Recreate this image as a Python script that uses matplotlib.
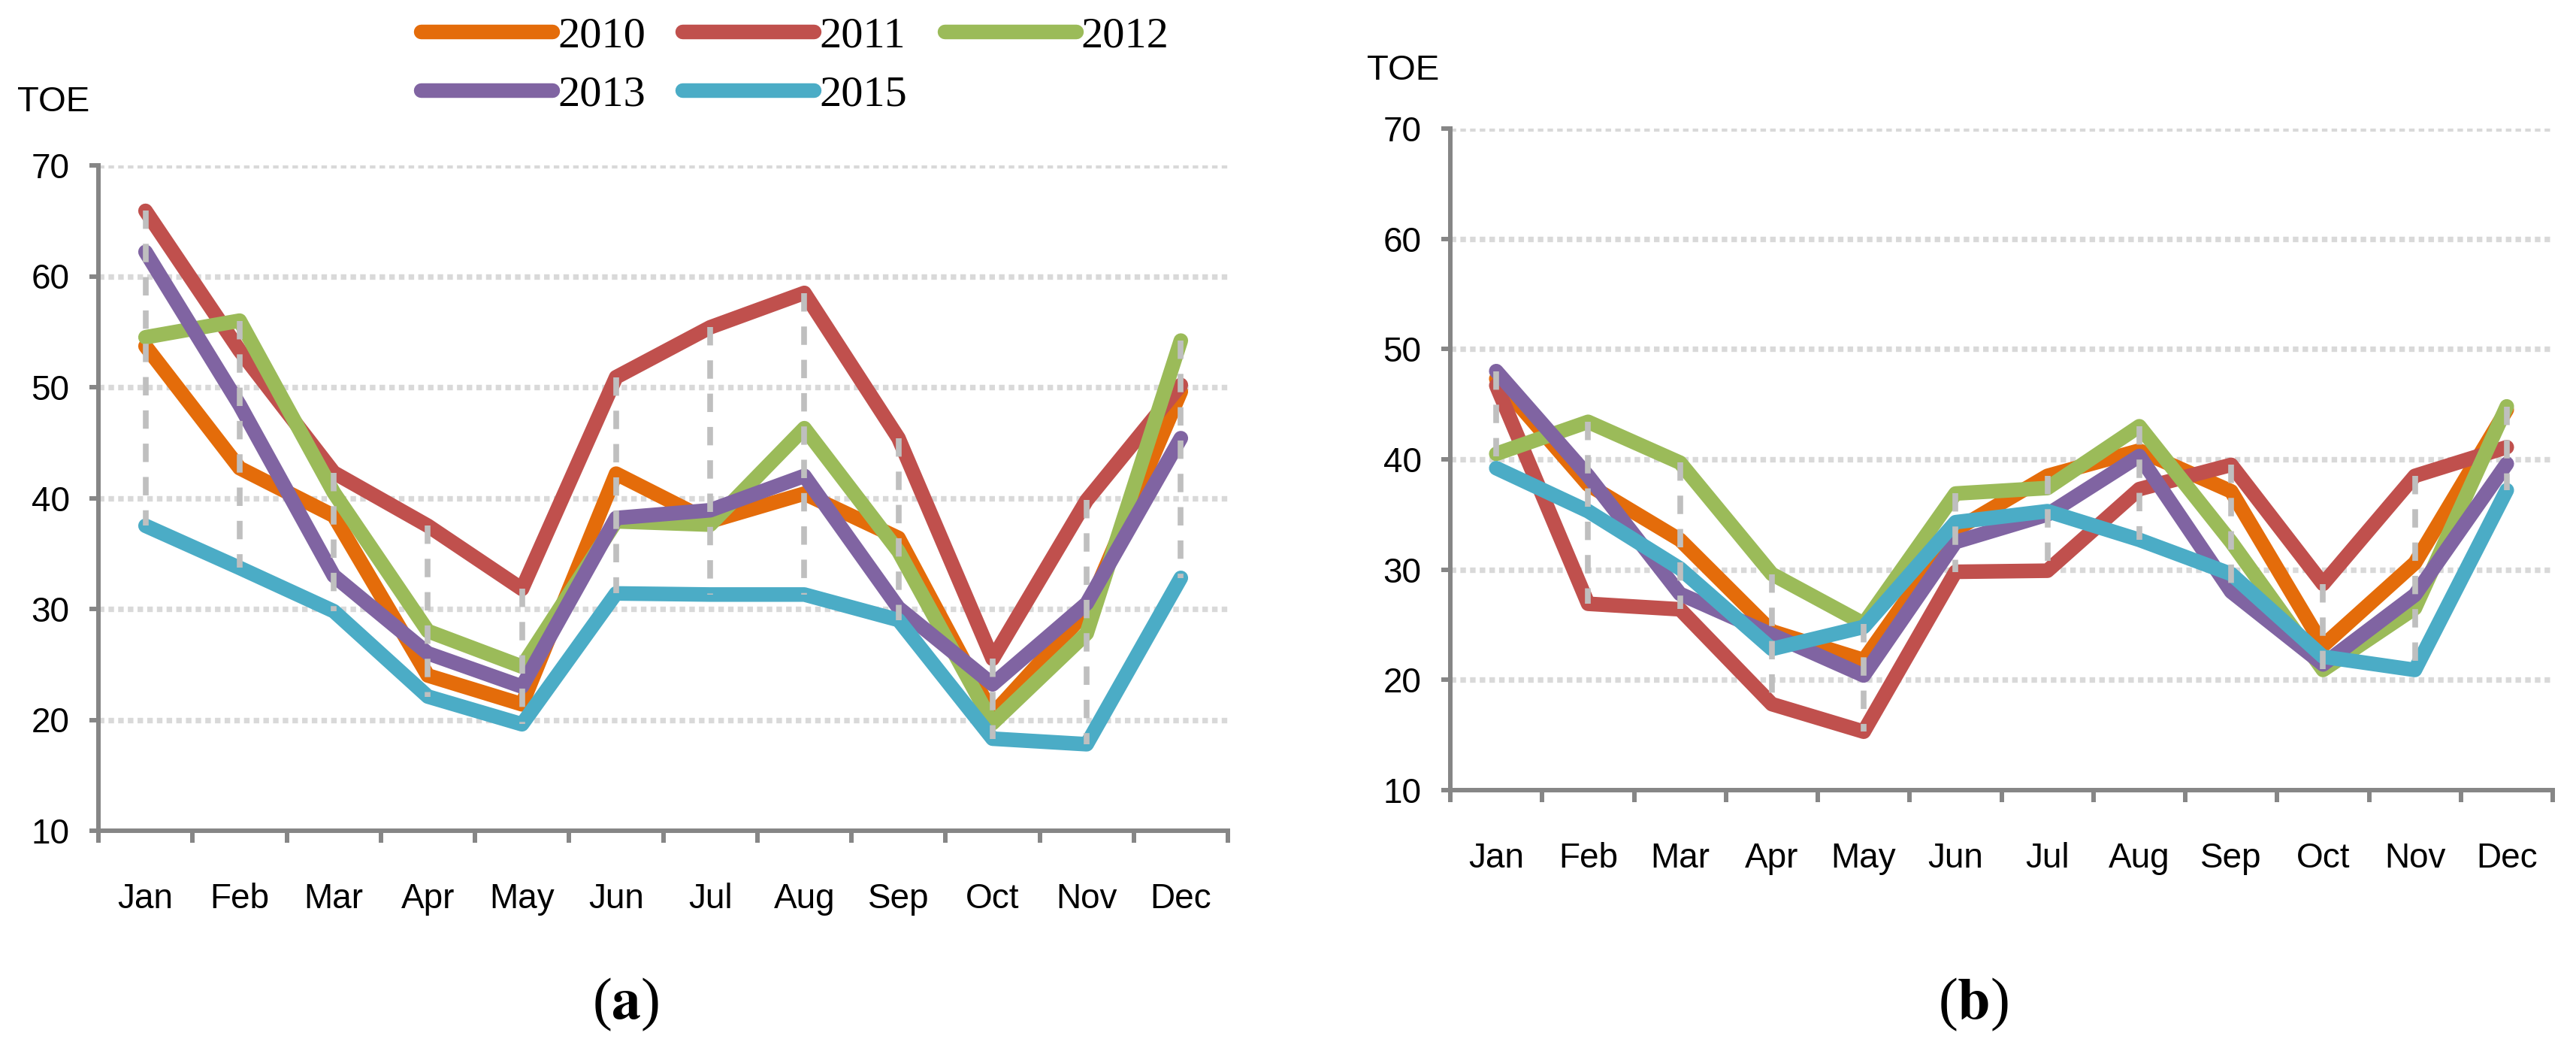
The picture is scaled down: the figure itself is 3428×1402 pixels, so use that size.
import numpy as np
import matplotlib
matplotlib.use("Agg")
import matplotlib.pyplot as plt

plt.rcParams['font.family'] = ['Liberation Sans', 'DejaVu Sans']
plt.rcParams['mathtext.fontset'] = 'stix'

months = ['Jan', 'Feb', 'Mar', 'Apr', 'May', 'Jun', 'Jul', 'Aug', 'Sep', 'Oct', 'Nov', 'Dec']
years = ['2010', '2011', '2012', '2013', '2015']
colors = ['#E46C0A', '#C0504D', '#9BBB59', '#8064A2', '#4BACC6']

# Panel (a)
a_2010 = [53.7, 42.7, 38.4, 24.0, 21.4, 42.2, 37.9, 40.4, 36.4, 20.5, 29.8, 49.6]
a_2011 = [65.9, 53.3, 42.3, 37.5, 31.8, 50.9, 55.4, 58.5, 45.4, 25.5, 39.8, 50.2]
a_2012 = [54.5, 56.0, 40.5, 28.0, 24.8, 37.9, 37.6, 46.3, 35.2, 19.7, 27.8, 54.2]
a_2013 = [62.2, 48.4, 33.0, 26.0, 23.0, 38.2, 38.9, 42.0, 30.1, 23.2, 30.5, 45.4]
a_2015 = [37.5, 33.7, 29.8, 22.1, 19.6, 31.4, 31.3, 31.3, 29.0, 18.3, 17.8, 32.8]

# Panel (b)
b_2010 = [47.3, 37.7, 32.7, 24.4, 21.8, 33.6, 38.5, 40.8, 37.1, 23.1, 30.6, 44.5]
b_2011 = [46.7, 26.9, 26.4, 17.8, 15.3, 29.8, 29.9, 37.3, 39.5, 28.7, 38.5, 41.1]
b_2012 = [40.5, 43.4, 39.7, 29.6, 25.1, 36.9, 37.4, 43.0, 32.5, 20.9, 26.5, 44.8]
b_2013 = [48.0, 38.5, 27.8, 24.1, 20.4, 32.5, 35.0, 40.3, 28.0, 21.4, 27.7, 39.6]
b_2015 = [39.2, 35.3, 30.1, 22.8, 24.8, 34.3, 35.3, 32.7, 29.6, 22.1, 20.9, 37.2]

yticks = [10, 20, 30, 40, 50, 60, 70]

W, H = 3428, 1402
fig = plt.figure(figsize=(W / 100, H / 100), dpi=100)

ax1 = fig.add_axes([131 / W, 1 - 1105 / H, 1503 / W, 885 / H])
ax2 = fig.add_axes([1930 / W, 1 - 1051 / H, 1467 / W, 880 / H])

AXC = '#868686'
handles = []
for ax, series in [(ax1, [a_2010, a_2011, a_2012, a_2013, a_2015]),
                   (ax2, [b_2010, b_2011, b_2012, b_2013, b_2015])]:
    x = np.arange(len(months))
    ax.set_xlim(-0.5, 11.5)
    ax.set_ylim(10, 70)
    for yv in yticks[1:]:
        ax.axhline(yv, color='#D9D9D9', lw=5.3, ls=(0, (1.0, 0.75)),
                   dash_capstyle='butt', zorder=1)
    hs = []
    for i, (vals, c, yr) in enumerate(zip(series, colors, years)):
        h, = ax.plot(x, vals, color=c, lw=14, solid_capstyle='round',
                     solid_joinstyle='round', zorder=2 + i * 0.1, label=yr)
        hs.append(h)
    handles = hs
    arr = np.array(series)
    mx = arr.max(axis=0)
    mn = arr.min(axis=0)
    ax.vlines(x, mx, mn, colors='#BFBFBF', lw=5.5, linestyles=(0, (3.2, 2.6)), zorder=5)

    for s in ['top', 'right']:
        ax.spines[s].set_visible(False)
    for s in ['left', 'bottom']:
        ax.spines[s].set_color(AXC)
        ax.spines[s].set_linewidth(4.3)
        ax.spines[s].set_zorder(6)
    ax.set_yticks(yticks)
    ax.tick_params(axis='y', length=8.6, width=4.3, color=AXC, pad=19,
                   labelsize=33, labelcolor='black')
    ax.set_xticks(np.arange(-0.5, 12, 1))
    ax.set_xticklabels([])
    ax.set_xticks(x, minor=True)
    ax.set_xticklabels(months, minor=True)
    ax.tick_params(axis='x', which='major', length=11.5, width=4.3, color=AXC)
    ax.tick_params(axis='x', which='minor', length=0, pad=50, labelsize=33,
                   labelcolor='black')

# Axis unit labels
fig.text(71 / W, 1 - 136 / H, 'TOE', ha='center', va='center', fontsize=34)
fig.text(1867 / W, 1 - 94 / H, 'TOE', ha='center', va='center', fontsize=34)

# Legend (row-wise order)
order = [0, 3, 1, 4, 2]
leg = fig.legend([handles[i] for i in order], [years[i] for i in order],
                 ncol=3, loc='upper left', bbox_to_anchor=(560 / W, 1 - 22 / H),
                 frameon=False, handlelength=3.0, handletextpad=0.12,
                 columnspacing=0.85, labelspacing=0.42, borderpad=0, borderaxespad=0,
                 prop={'family': 'Liberation Serif', 'size': 42})
for lh in leg.get_lines():
    lh.set_linewidth(14)
    lh.set_solid_capstyle('round')

# Captions
fig.text(833 / W, 1 - 1336 / H, r'($\mathbf{a}$)', ha='center', va='center',
         fontsize=56, family='Liberation Serif')
fig.text(2626 / W, 1 - 1336 / H, r'($\mathbf{b}$)', ha='center', va='center',
         fontsize=56, family='Liberation Serif')

fig.savefig('out.png', dpi=100)
